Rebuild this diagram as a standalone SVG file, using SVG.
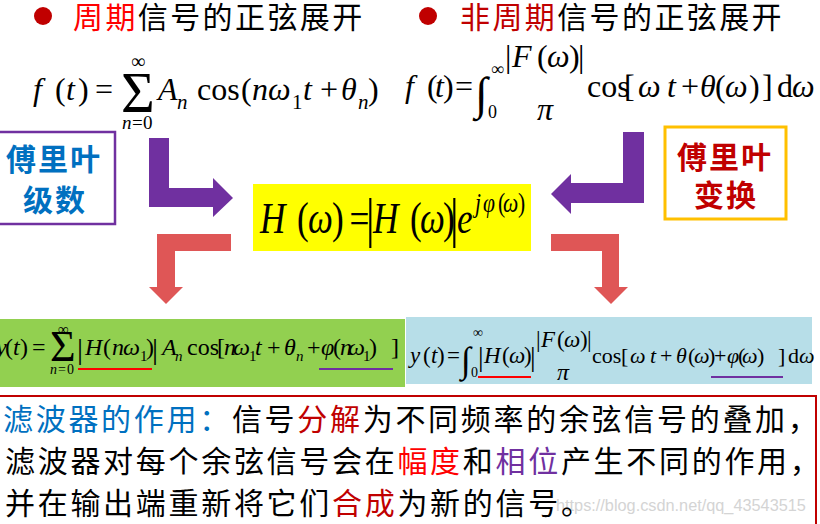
<svg xmlns="http://www.w3.org/2000/svg" width="820" height="524" viewBox="0 0 820 524">
<style>
.cjk{font-family:"Noto Sans CJK SC","Noto Sans",sans-serif}
.ttl{font-size:30px;letter-spacing:2.4px;fill:#000}
.lbl{font-size:30px;font-weight:bold;letter-spacing:2px;text-anchor:middle}
.body{font-size:30px;letter-spacing:2.7px;fill:#000}
.m{font-family:"Liberation Serif","Times New Roman",serif;fill:#000}
.i{font-style:italic}
.arrP{fill:#7030a0}
.arrR{fill:#df5656}
</style>
<rect width="820" height="524" fill="#fff"/>

<g id="title-left">
<circle cx="43" cy="16" r="9" fill="#c00000"/>
<text class="cjk ttl" x="73" y="28"><tspan fill="#ff0000">周期</tspan>信号的正弦展开</text>
</g>
<g id="title-right">
<circle cx="428" cy="16" r="9" fill="#c00000"/>
<text class="cjk ttl" x="460" y="28"><tspan fill="#c00000">非周期</tspan>信号的正弦展开</text>
</g>

<g id="formula-periodic" class="m">
<text font-size="32" y="100"><tspan class="i" x="33">f</tspan><tspan x="55">(</tspan><tspan class="i" x="66">t</tspan><tspan x="78">)</tspan><tspan x="95">=</tspan></text>
<text font-size="58" x="121" y="112">Σ</text>
<text font-size="20" x="131" y="68">∞</text>
<text font-size="19" y="129"><tspan class="i" x="122">n</tspan><tspan x="132">=</tspan><tspan x="143">0</tspan></text>
<text font-size="32" y="100"><tspan class="i" x="158">A</tspan><tspan x="197">cos</tspan><tspan x="241">(</tspan><tspan class="i" x="252">n</tspan><tspan class="i" x="268">ω</tspan><tspan class="i" x="303">t</tspan><tspan x="320">+</tspan><tspan class="i" x="341">θ</tspan><tspan x="368">)</tspan></text>
<text font-size="21" y="109"><tspan class="i" x="177">n</tspan><tspan x="292">1</tspan><tspan class="i" x="358">n</tspan></text>
</g>

<g id="formula-aperiodic" class="m">
<text font-size="32" y="97"><tspan class="i" x="405">f</tspan><tspan x="427">(</tspan><tspan class="i" x="435">t</tspan><tspan x="443">)</tspan><tspan x="455">=</tspan></text>
<text font-size="46" x="475" y="109">∫</text>
<text font-size="18" x="491" y="75">∞</text>
<text font-size="18" x="488" y="118">0</text>
<text font-size="32" y="67"><tspan x="505">|</tspan><tspan class="i" x="512">F</tspan><tspan x="537">(</tspan><tspan class="i" x="547">ω</tspan><tspan x="569">)</tspan><tspan x="578">|</tspan></text>
<text font-size="32" class="i" x="537" y="120">π</text>
<text font-size="32" y="97"><tspan x="587">cos</tspan><tspan x="624">[</tspan><tspan class="i" x="638">ω</tspan><tspan class="i" x="667">t</tspan><tspan x="681">+</tspan><tspan class="i" x="700">θ</tspan><tspan x="715">(</tspan><tspan class="i" x="725">ω</tspan><tspan x="749">)</tspan><tspan x="762">]</tspan><tspan x="777">d</tspan><tspan class="i" x="792">ω</tspan></text>
</g>

<g id="node-fourier-series">
<rect x="-2" y="132" width="117" height="92" fill="#fff" stroke="#7030a0" stroke-width="2.5"/>
<text class="cjk lbl" fill="#0070c0"><tspan x="54" y="170">傅里叶</tspan><tspan x="55" y="211">级数</tspan></text>
</g>

<g id="node-fourier-transform">
<rect x="665" y="127" width="121" height="92" fill="#fff" stroke="#ffc000" stroke-width="3"/>
<text class="cjk lbl" fill="#c00000"><tspan x="725" y="168">傅里叶</tspan><tspan x="726" y="206">变换</tspan></text>
</g>

<g id="node-H" class="m">
<rect x="253" y="184" width="278" height="67" fill="#ffff00"/>
<g transform="matrix(0.8 0 0 1 51.6 0)">
<text font-size="44" y="233"><tspan class="i" x="260.5">H</tspan><tspan x="306.75">(</tspan><tspan class="i" x="320.5">ω</tspan><tspan x="350.5">)</tspan><tspan x="372.5">=</tspan><tspan class="i" x="401.75">H</tspan><tspan x="448">(</tspan><tspan class="i" x="460.5">ω</tspan><tspan x="489.25">)</tspan><tspan class="i" x="506.75">e</tspan></text>
<text font-size="54" y="236"><tspan x="393">|</tspan><tspan x="498">|</tspan></text>
<text font-size="27" y="212"><tspan class="i" x="529.25">j</tspan><tspan class="i" x="539.25">φ</tspan><tspan x="558">(</tspan><tspan class="i" x="564.25">ω</tspan><tspan x="583">)</tspan></text>
</g>
</g>

<g id="node-y-periodic" class="m">
<rect x="0" y="319" width="405" height="68" fill="#92d050"/>
<text font-size="24" y="355"><tspan class="i" x="-4">y</tspan><tspan x="5">(</tspan><tspan class="i" x="13">t</tspan><tspan x="20">)</tspan><tspan x="32">=</tspan></text>
<text font-size="44" x="50" y="361">Σ</text>
<text font-size="15" x="58" y="334">∞</text>
<text font-size="14" y="374"><tspan class="i" x="50">n</tspan><tspan x="58">=</tspan><tspan x="67">0</tspan></text>
<text font-size="24" y="355"><tspan class="i" x="85">H</tspan><tspan x="103">(</tspan><tspan class="i" x="112">n</tspan><tspan class="i" x="123">ω</tspan><tspan x="146">)</tspan><tspan class="i" x="162">A</tspan><tspan x="187">cos</tspan><tspan x="217">[</tspan><tspan class="i" x="224">n</tspan><tspan class="i" x="233">ω</tspan><tspan class="i" x="255">t</tspan><tspan x="267">+</tspan><tspan class="i" x="284">θ</tspan><tspan x="307">+</tspan><tspan class="i" x="321">φ</tspan><tspan x="333">(</tspan><tspan class="i" x="340">n</tspan><tspan class="i" x="348">ω</tspan><tspan x="369">)</tspan><tspan x="391">]</tspan></text>
<text font-size="30" y="359"><tspan x="77">|</tspan><tspan x="152">|</tspan></text>
<text font-size="15" y="361"><tspan x="140">1</tspan><tspan class="i" x="175">n</tspan><tspan x="249">1</tspan><tspan class="i" x="296">n</tspan><tspan x="363">1</tspan></text>
<line x1="78" y1="369" x2="152" y2="369" stroke="#ff0000" stroke-width="2"/>
<line x1="319" y1="369" x2="393" y2="369" stroke="#7030a0" stroke-width="2"/>
</g>

<g id="node-y-aperiodic" class="m">
<rect x="406" y="317" width="406" height="67" fill="#b7dee8"/>
<text font-size="23" y="363"><tspan class="i" x="410">y</tspan><tspan x="423">(</tspan><tspan class="i" x="431">t</tspan><tspan x="437">)</tspan><tspan x="447">=</tspan></text>
<text font-size="36" x="461" y="372">∫</text>
<text font-size="14" x="473" y="337">∞</text>
<text font-size="14" x="471" y="377">0</text>
<text font-size="23" y="363"><tspan class="i" x="484">H</tspan><tspan x="502">(</tspan><tspan class="i" x="509">ω</tspan><tspan x="524">)</tspan></text>
<text font-size="28" y="366"><tspan x="478">|</tspan><tspan x="530">|</tspan></text>
<text font-size="23" y="347"><tspan x="536">|</tspan><tspan class="i" x="541">F</tspan><tspan x="557">(</tspan><tspan class="i" x="564">ω</tspan><tspan x="580">)</tspan><tspan x="587">|</tspan></text>
<text font-size="24" class="i" x="557" y="380">π</text>
<text font-size="22" y="363"><tspan x="592">cos</tspan><tspan x="621">[</tspan><tspan class="i" x="630">ω</tspan><tspan class="i" x="650">t</tspan><tspan x="660">+</tspan><tspan class="i" x="676">θ</tspan><tspan x="688">(</tspan><tspan class="i" x="694">ω</tspan><tspan x="708">)</tspan><tspan x="714">+</tspan><tspan class="i" x="727">φ</tspan><tspan x="738">(</tspan><tspan class="i" x="742">ω</tspan><tspan x="757">)</tspan><tspan x="778">]</tspan><tspan x="788">d</tspan><tspan class="i" x="799">ω</tspan></text>
<line x1="478" y1="377" x2="531" y2="377" stroke="#ff0000" stroke-width="2"/>
<line x1="711" y1="377" x2="783" y2="377" stroke="#7030a0" stroke-width="2"/>
</g>

<g id="connectors">
<polygon class="arrP" points="149,138 169,138 169,188 213,188 213,178 233,198 213,217 213,207 149,207"/>
<polygon class="arrP" points="623,132 644,132 644,203 571,203 571,214 551,194 571,174 571,183 623,183"/>
<polygon class="arrR" points="157,234 231,234 231,251 175,251 175,287 183,287 166,304 149,287 157,287"/>
<polygon class="arrR" points="551,234 619,234 619,287 628,287 611,304 594,287 602,287 602,251 551,251"/>
</g>

<g id="node-explain">
<rect x="-2" y="396" width="818" height="140" fill="#fff" stroke="#c00000" stroke-width="2"/>
<text x="556" y="511" font-family="Liberation Sans, Arial, sans-serif" font-size="16.3" fill="#d4d4d4">https://blog.csdn.net/qq_43543515</text>
<text class="cjk body" x="3" y="430"><tspan fill="#0070c0">滤波器的作用：</tspan>信号<tspan fill="#c00000">分解</tspan>为不同频率的余弦信号的叠加，</text>
<text class="cjk body" x="5" y="472">滤波器对每个余弦信号会在<tspan fill="#ff0000">幅度</tspan>和<tspan fill="#7030a0">相位</tspan>产生不同的作用，</text>
<text class="cjk body" x="5" y="514">并在输出端重新将它们<tspan fill="#c00000">合成</tspan>为新的信号。</text>
</g>
</svg>
